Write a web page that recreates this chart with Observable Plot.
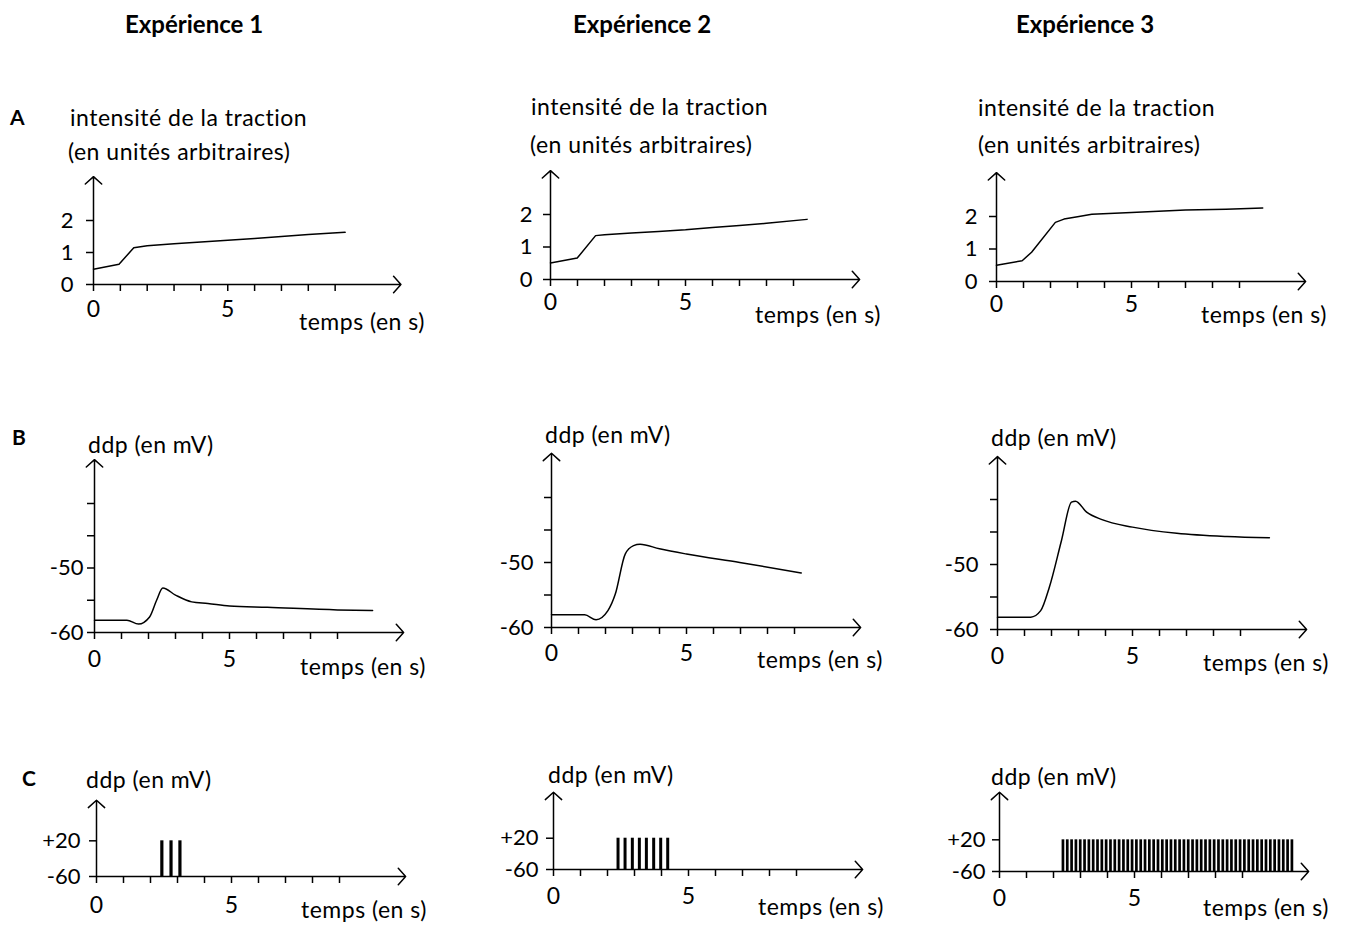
<!DOCTYPE html>
<html>
<head>
<meta charset="utf-8">
<script src="https://cdn.jsdelivr.net/npm/d3@7"></script>
<script src="https://cdn.jsdelivr.net/npm/@observablehq/plot@0.6"></script>
<style>
  html, body { margin: 0; padding: 0; background: #fff; }
  #root { position: relative; width: 1348px; height: 926px; overflow: hidden; font-family: Lato, "Open Sans", sans-serif; color: #000; }
  .txt { position: absolute; white-space: nowrap; line-height: 1; font-size: 23px; letter-spacing: 0.5px; }
  .title { position: absolute; white-space: nowrap; line-height: 1; font-size: 24px; font-weight: bold; }
  .row { position: absolute; white-space: nowrap; line-height: 1; font-size: 21px; font-weight: bold; }
  #root svg { position: absolute; overflow: visible; }
</style>
</head>
<body>
<div id="root"></div>
<script>
// ---------------- DATA ----------------
const experiences = ["Expérience 1", "Expérience 2", "Expérience 3"];
const rowLetters = ["A", "B", "C"];
const tractionLabel = ["intensité de la traction", "(en unités arbitraires)"];
const ddpLabel = "ddp (en mV)";
const timeLabel = "temps (en s)";

// x axis (temps, s)
const xTicks = [0, 1, 2, 3, 4, 5, 6, 7, 8, 9];
const xTickLabels = ["0", "", "", "", "", "5", "", "", "", ""];
const xAxisEnd = [11.45, 11.45, 11.45];

// row A: intensité de la traction (u.a.)
const yTicksA = [0, 1, 2];
const yTickLabelsA = ["0", "1", "2"];
const yAxisEndA = [3.37, 3.35, 3.35];
// row B: ddp musculaire (mV)
const yTicksB = [-60, -55, -50, -45, -40];
const yTickLabelsB = ["-60", "", "-50", "", ""];
const yAxisEndB = [-33.2, -33.2, -33.4];
// row C: ddp nerveuse (mV)
const yTicksC = [-60, 20];
const yTickLabelsC = ["-60", "+20"];
const yAxisEndC = [111, 137.6, 140];
const restC = -60;
const spikePeak = 20;

// Expérience 1
const tA1 = [0, 0.95, 1.5, 2, 3, 4, 5, 6, 7, 8, 9.37];
const vA1 = [0.48, 0.63, 1.15, 1.21, 1.27, 1.33, 1.38, 1.44, 1.5, 1.56, 1.63];
const tB1 = [0, 1.2, 1.63, 2.04, 2.3, 2.53, 3.0, 3.6, 4.2, 5, 6.4, 9.0, 10.3];
const vB1 = [-58.1, -58.1, -58.7, -57.6, -55.0, -53.1, -54.2, -55.25, -55.5, -55.9, -56.1, -56.5, -56.6];
const spikes1 = [2.42, 2.76, 3.09];

// Expérience 2
const tA2 = [0, 0.99, 1.67, 2, 3, 4, 5, 6, 7, 8, 9.5];
const vA2 = [0.51, 0.66, 1.35, 1.38, 1.43, 1.48, 1.53, 1.6, 1.66, 1.73, 1.85];
const tB2 = [0, 1.23, 1.65, 2.09, 2.36, 2.73, 3.04, 3.28, 4.0, 5, 6.97, 9.25];
const vB2 = [-58.05, -58.05, -58.8, -57.4, -54.9, -48.7, -47.4, -47.2, -47.9, -48.7, -50.0, -51.6];
const spikes2 = [2.39, 2.65, 2.92, 3.18, 3.44, 3.71, 3.97, 4.23];

// Expérience 3
const tA3 = [0, 0.95, 1.3, 2.18, 2.5, 3, 3.53, 5, 7, 8.5, 9.86];
const vA3 = [0.5, 0.64, 0.9, 1.82, 1.92, 1.99, 2.07, 2.12, 2.2, 2.22, 2.26];
const tB3 = [0, 1.23, 1.6, 1.92, 2.37, 2.74, 2.89, 3.3, 3.87, 5, 6.64, 8.5, 10.07];
const vB3 = [-58.1, -58.1, -57.1, -53.5, -46.3, -40.4, -40.25, -41.95, -43.1, -44.25, -45.2, -45.7, -45.9];
const spikes3 = [2.35, 2.51, 2.67, 2.83, 2.99, 3.15, 3.31, 3.47, 3.63, 3.79, 3.95, 4.11, 4.27, 4.43,
  4.59, 4.75, 4.91, 5.07, 5.23, 5.39, 5.55, 5.71, 5.87, 6.03, 6.19, 6.35, 6.51, 6.67, 6.83, 6.99,
  7.15, 7.31, 7.47, 7.63, 7.79, 7.95, 8.11, 8.27, 8.43, 8.59, 8.75, 8.91, 9.07, 9.23, 9.39, 9.55,
  9.71, 9.87, 10.03, 10.19, 10.35, 10.51, 10.67, 10.83];

// ---------------- LAYOUT (pixels / styles) ----------------
const root = document.getElementById("root");
function addText(cls, str, left, baseline, size) {
  const d = document.createElement("div");
  d.className = cls;
  d.textContent = str;
  d.style.left = left + "px";
  d.style.top = (baseline - 0.887 * size) + "px";
  root.appendChild(d);
}

// titles
[[125, 33], [573, 33], [1016, 33]].forEach(([l, b], i) => addText("title", experiences[i], l, b, 24));
[[10, 125], [12, 445], [22, 786]].forEach(([l, b], i) => addText("row", rowLetters[i], l, b, 21));

const rows = [
  {ticks: yTicksA, labels: yTickLabelsA, ends: yAxisEndA, base: 0,
   series: [[tA1, vA1], [tA2, vA2], [tA3, vA3]], kind: "line", curve: "linear"},
  {ticks: yTicksB, labels: yTickLabelsB, ends: yAxisEndB, base: -60,
   series: [[tB1, vB1], [tB2, vB2], [tB3, vB3]], kind: "line", curve: "monotone-x"},
  {ticks: yTicksC, labels: yTickLabelsC, ends: yAxisEndC, base: restC,
   series: [spikes1, spikes2, spikes3], kind: "spikes"}
];

// per panel pixel layout: origin (ox, oy), px per second, px per y unit, tick paddings, spike width
const layout = [
  [ {ox: 93, oy: 284, kx: 26.85, ky: 32, padY: 13, padX: 9},
    {ox: 550, oy: 279, kx: 27, ky: 32.5, padY: 11, padX: 7},
    {ox: 996, oy: 281, kx: 27, ky: 32.5, padY: 12, padX: 7} ],
  [ {ox: 94, oy: 632, kx: 27, ky: 6.45, padY: 4, padX: 11},
    {ox: 551, oy: 627, kx: 27, ky: 6.5, padY: 11, padX: 10},
    {ox: 997, oy: 629, kx: 27, ky: 6.5, padY: 12, padX: 11} ],
  [ {ox: 96, oy: 876, kx: 27, ky: 0.446, padY: 9, padX: 13, sw: 3.2},
    {ox: 553, oy: 869, kx: 27, ky: 0.391, padY: 8, padX: 11, sw: 3},
    {ox: 999, oy: 871, kx: 27, ky: 0.396, padY: 7, padX: 11, sw: 2.7} ]
];

// label placements (left, baseline) in page pixels
const yLabelPos = [
  [[[70, 126], [68, 160]], [[531, 115], [530, 153]], [[978, 116], [978, 153]]],
  [[[88, 453]], [[545, 443]], [[991, 446]]],
  [[[86, 788]], [[548, 783]], [[991, 785]]]
];
const timeLabelPos = [
  [[299, 330], [755, 323], [1201, 323]],
  [[300, 675], [757, 668], [1203, 671]],
  [[301, 918], [758, 915], [1203, 916]]
];

rows.forEach((row, r) => {
  for (let c = 0; c < 3; c++) {
    const L = layout[r][c];
    const padL = 70, padT = 20, padR = 20, padB = 50;
    const topPx = L.oy - (row.ends[c] - row.base) * L.ky;
    const rightPx = L.ox + xAxisEnd[c] * L.kx;
    const width = Math.round(rightPx - L.ox + padL + padR);
    const oyL = Math.round(L.oy - topPx) + padT;
    const height = oyL + padB;

    const marks = [
      // axes with arrows
      Plot.arrow([0], {x1: 0, y1: row.base, x2: xAxisEnd[c], y2: row.base,
        stroke: "black", strokeWidth: 1.5, headAngle: 96, headLength: 11}),
      Plot.arrow([0], {x1: 0, y1: row.base, x2: 0, y2: row.ends[c],
        stroke: "black", strokeWidth: 1.5, headAngle: 96, headLength: 11}),
      Plot.axisX(xTicks, {anchor: "bottom", tickSize: 7, tickPadding: L.padX, strokeWidth: 1.5,
        tickFormat: (d) => xTickLabels[xTicks.indexOf(d)], fontSize: 23, label: null}),
      Plot.axisY(row.ticks, {anchor: "left", tickSize: 7, tickPadding: L.padY, strokeWidth: 1.5,
        tickFormat: (d) => row.labels[row.ticks.indexOf(d)], fontSize: 22, label: null})
    ];
    if (row.kind === "line") {
      const [ts, vs] = row.series[c];
      const data = ts.map((t, i) => ({t, v: vs[i]}));
      marks.push(Plot.line(data, {x: "t", y: "v", curve: row.curve, stroke: "black", strokeWidth: 1.5}));
    } else {
      marks.push(Plot.ruleX(row.series[c], {x: (d) => d, y1: restC, y2: spikePeak,
        stroke: "black", strokeWidth: L.sw, strokeLinecap: "butt"}));
    }

    const svg = Plot.plot({
      width, height,
      marginLeft: padL, marginRight: padR, marginTop: 0, marginBottom: height - oyL,
      x: {type: "linear", domain: [0, 10], range: [padL, padL + 10 * L.kx]},
      y: {type: "linear", domain: [row.base, row.base + 1], range: [oyL, oyL - L.ky]},
      style: {fontFamily: "Lato, 'Open Sans', sans-serif", color: "black", background: "transparent", overflow: "visible"},
      marks
    });
    svg.style.left = (L.ox - padL) + "px";
    svg.style.top = (L.oy - oyL) + "px";
    root.appendChild(svg);

    // axis names
    const yl = r === 0 ? tractionLabel : [ddpLabel];
    yl.forEach((s, i) => addText("txt", s, yLabelPos[r][c][i][0], yLabelPos[r][c][i][1], 23));
    addText("txt", timeLabel, timeLabelPos[r][c][0], timeLabelPos[r][c][1], 23);
  }
});
</script>
</body>
</html>
